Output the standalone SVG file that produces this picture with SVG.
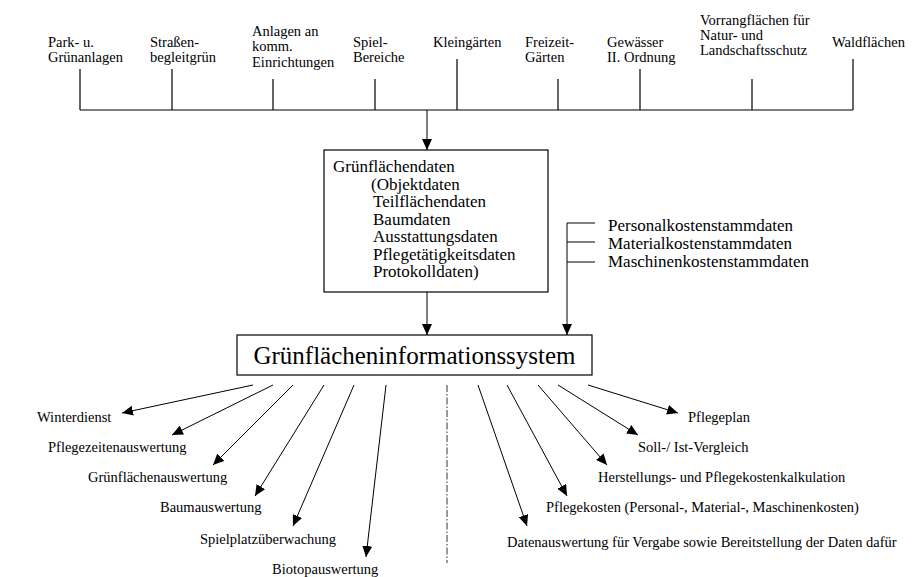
<svg xmlns="http://www.w3.org/2000/svg" width="915" height="577" viewBox="0 0 915 577">
<style>
text{font-family:"Liberation Serif","Times New Roman",serif;fill:#000}
.t{font-size:14.5px}
.m{font-size:17px}
.big{font-size:25px}
.ln{stroke:#000;stroke-width:1.2;fill:none}
.ar{stroke:#000;stroke-width:1;fill:none;marker-end:url(#ah)}
.box{fill:#fff;stroke:#000;stroke-width:1.2}
</style>
<defs>
<marker id="ah" markerUnits="userSpaceOnUse" markerWidth="12" markerHeight="10" refX="11" refY="5" orient="auto">
<path d="M0,0 L11,5 L0,10 z" fill="#000"/>
</marker>
</defs>
<rect width="915" height="577" fill="#fff"/>

<g id="sources">
<g id="n-park"><text class="t" x="48" y="47">Park- u.</text><text class="t" x="48" y="62">Grünanlagen</text></g>
<g id="n-strassen"><text class="t" x="150" y="47">Straßen-</text><text class="t" x="150" y="62">begleitgrün</text></g>
<g id="n-anlagen"><text class="t" x="252" y="36">Anlagen an</text><text class="t" x="252" y="51">komm.</text><text class="t" x="252" y="67">Einrichtungen</text></g>
<g id="n-spiel"><text class="t" x="353" y="47">Spiel-</text><text class="t" x="353" y="62">Bereiche</text></g>
<g id="n-klein"><text class="t" x="433" y="47">Kleingärten</text></g>
<g id="n-freizeit"><text class="t" x="525" y="47">Freizeit-</text><text class="t" x="525" y="62">Gärten</text></g>
<g id="n-gewaesser"><text class="t" x="607" y="47">Gewässer</text><text class="t" x="607" y="62">II. Ordnung</text></g>
<g id="n-vorrang"><text class="t" x="700" y="25">Vorrangflächen für</text><text class="t" x="700" y="40">Natur- und</text><text class="t" x="700" y="55">Landschaftsschutz</text></g>
<g id="n-wald"><text class="t" x="832" y="47">Waldflächen</text></g>
</g>

<g id="n-gruenflaechendaten">
<rect class="box" x="324" y="150" width="224" height="142"/>
<text class="m" x="333" y="172">Grünflächendaten</text>
<text class="m" x="371" y="189.5">(Objektdaten</text>
<text class="m" x="373" y="207">Teilflächendaten</text>
<text class="m" x="373" y="224.5">Baumdaten</text>
<text class="m" x="373" y="242">Ausstattungsdaten</text>
<text class="m" x="373" y="259.5">Pflegetätigkeitsdaten</text>
<text class="m" x="373" y="277">Protokolldaten)</text>
</g>

<g id="n-stammdaten">
<text class="m" x="608" y="231">Personalkostenstammdaten</text>
<text class="m" x="608" y="249">Materialkostenstammdaten</text>
<text class="m" x="608" y="267">Maschinenkostenstammdaten</text>
</g>

<g id="n-gis">
<rect class="box" x="237" y="335" width="355" height="40"/>
<text class="big" x="414.5" y="364" text-anchor="middle">Grünflächeninformationssystem</text>
</g>

<g id="outputs">
<text class="t" x="37" y="422">Winterdienst</text>
<text class="t" x="48" y="452">Pflegezeitenauswertung</text>
<text class="t" x="88" y="482">Grünflächenauswertung</text>
<text class="t" x="160" y="512">Baumauswertung</text>
<text class="t" x="200" y="544">Spielplatzüberwachung</text>
<text class="t" x="272" y="574">Biotopauswertung</text>
<text class="t" x="688" y="422">Pflegeplan</text>
<text class="t" x="638" y="452">Soll-/ Ist-Vergleich</text>
<text class="t" x="598" y="482">Herstellungs- und Pflegekostenkalkulation</text>
<text class="t" x="546" y="512">Pflegekosten (Personal-, Material-, Maschinenkosten)</text>
<text class="t" x="507" y="547">Datenauswertung für Vergabe sowie Bereitstellung der Daten dafür</text>
</g>

<g id="connectors">
<path class="ln" d="M80,110 H853 M80,69 V110 M172,69 V110 M273,79 V110 M375,79 V110 M457,59 V110 M558,79 V110 M640,69 V110 M752,79 V110 M853,59 V110"/>
<line class="ar" x1="427" y1="110" x2="427" y2="150"/>
<line class="ar" x1="427" y1="292" x2="427" y2="335"/>
<path class="ln" d="M595,223 H567 M595,242 H567 M595,262 H567"/>
<line class="ar" x1="567" y1="223" x2="567" y2="335"/>
<line class="ar" x1="253" y1="385" x2="122" y2="413"/>
<line class="ar" x1="273" y1="385" x2="172" y2="435"/>
<line class="ar" x1="293" y1="385" x2="213" y2="465"/>
<line class="ar" x1="324" y1="385" x2="255" y2="496"/>
<line class="ar" x1="354" y1="385" x2="293" y2="526"/>
<line class="ar" x1="386" y1="385" x2="366" y2="557"/>
<line class="ar" x1="478" y1="385" x2="527" y2="526"/>
<line class="ar" x1="507" y1="385" x2="567" y2="496"/>
<line class="ar" x1="538" y1="385" x2="607" y2="465"/>
<line class="ar" x1="558" y1="385" x2="638" y2="435"/>
<line class="ar" x1="588" y1="385" x2="678" y2="413"/>
<line x1="447" y1="385" x2="447" y2="563" stroke="#000" stroke-width="0.8" stroke-dasharray="7 2 1.5 2"/>
</g>
</svg>
